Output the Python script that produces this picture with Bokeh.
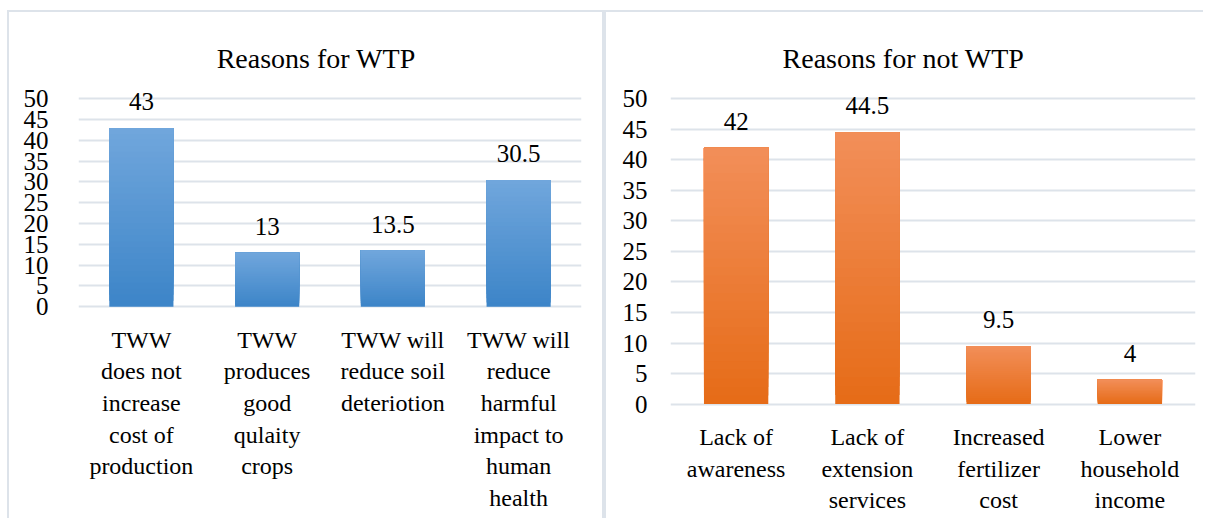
import numpy as np
from bokeh.plotting import figure
from bokeh.models import FactorRange, Range1d, LabelSet, Label, ColumnDataSource, FixedTicker
from bokeh.layouts import row
from bokeh.core.properties import value
from bokeh.embed import file_html
from bokeh.resources import INLINE

# ---- data ----
left_title = "Reasons for WTP"
left_categories = [
    "TWW\ndoes not\nincrease\ncost of\nproduction",
    "TWW\nproduces\ngood\nqulaity\ncrops",
    "TWW will\nreduce soil\ndeteriotion",
    "TWW will\nreduce\nharmful\nimpact to\nhuman\nhealth",
]
left_values = [43, 13, 13.5, 30.5]
left_value_labels = ["43", "13", "13.5", "30.5"]

right_title = "Reasons for not WTP"
right_categories = [
    "Lack of\nawareness",
    "Lack of\nextension\nservices",
    "Increased\nfertilizer\ncost",
    "Lower\nhousehold\nincome",
]
right_values = [42, 44.5, 9.5, 4]
right_value_labels = ["42", "44.5", "9.5", "4"]

y_ticks = [0, 5, 10, 15, 20, 25, 30, 35, 40, 45, 50]

FONT = "Liberation Serif"
GRID = "#dde3ea"

# ---- layout (pixels, page coordinates) ----
W_L, W_R, H = 599, 597, 508
PAGE_TOP = 12          # top of drawing area on the page (after margin + border)
CONTENT_H = H - 2      # drawing height (figure height minus top border)
Y50 = 98               # page y of the 50 gridline
TITLE_BASE = 58        # page y of the title baseline
CAT_BASE = 41          # px from zero line to first category-label baseline
CAT_LH = 31.5          # category label line pitch


def mix(c1, c2, t):
    r = [int(round(a + (b - a) * t)) for a, b in zip(c1, c2)]
    return "#%02x%02x%02x" % tuple(r)


def make_panel(title, cats, vals, labels, width, bl, br, zero_px,
               c_bottom, c_top, bar_w, title_x, tick_standoff):
    u = zero_px / 50.0                       # px per unit
    y_top = 50 + (Y50 - PAGE_TOP) / u
    y_bot = 50 - (PAGE_TOP + CONTENT_H - Y50) / u
    p = figure(x_range=FactorRange(*cats), y_range=Range1d(y_bot, y_top),
               width=width, height=H, output_backend="svg",
               toolbar_location=None, min_border_left=bl, min_border_right=br,
               min_border_top=0, min_border_bottom=0)
    p.outline_line_color = None
    p.background_fill_color = None
    p.border_fill_color = None
    p.xgrid.grid_line_color = None
    p.ygrid.grid_line_color = GRID
    p.ygrid.grid_line_width = 2
    p.xaxis.visible = False
    ax = p.yaxis[0]
    ax.ticker = FixedTicker(ticks=y_ticks)
    ax.axis_line_color = None
    ax.major_tick_line_color = None
    ax.minor_tick_line_color = None
    ax.major_label_text_color = "#000000"
    ax.major_label_text_font = FONT
    ax.major_label_text_font_size = "25px"
    ax.major_label_standoff = tick_standoff

    # gradient bars: overlapping slices, each from a fraction of the value up to the value
    n = 30
    xs, bots, tops, cols = [], [], [], []
    for c, v in zip(cats, vals):
        for i in range(n):
            xs.append(c)
            bots.append(v * i / n)
            tops.append(v)
            cols.append(mix(c_bottom, c_top, i / (n - 1)))
    p.vbar(x=xs, bottom=bots, top=tops, width=bar_w, fill_color=cols, line_color=None)

    # value labels
    src = ColumnDataSource(dict(x=cats, y=vals, t=labels))
    p.add_layout(LabelSet(x="x", y="y", text="t", source=src, y_offset=18,
                          text_align="center", text_baseline="alphabetic",
                          text_font=value(FONT), text_font_size=value("25px"),
                          text_color="#000000"))

    # category labels, one line at a time (centred)
    lx, ly, lt = [], [], []
    for c in cats:
        for k, line in enumerate(c.split("\n")):
            lx.append(c)
            ly.append(-(CAT_BASE + k * CAT_LH) / u)
            lt.append(line)
    src_c = ColumnDataSource(dict(x=lx, y=ly, t=lt))
    p.add_layout(LabelSet(x="x", y="y", text="t", source=src_c,
                          text_align="center", text_baseline="alphabetic",
                          text_font=value(FONT), text_font_size=value("24px"),
                          text_color="#000000"))

    # title
    p.add_layout(Label(x=title_x, y=50 + (Y50 - TITLE_BASE) / u, text=title,
                       text_align="center", text_baseline="alphabetic",
                       text_font=FONT, text_font_size="28px", text_color="#000000"))
    return p


p1 = make_panel(left_title, left_categories, left_values, left_value_labels,
                W_L, 69, 27, 207, (61, 133, 200), (112, 166, 220), 0.51, 1.89, 24)
p2 = make_panel(right_title, right_categories, right_values, right_value_labels,
                W_R, 64, 8, 304, (230, 108, 24), (242, 142, 88), 0.49, 1.775, 17)

p1.styles = {"border-left": "2px solid " + GRID, "border-top": "2px solid " + GRID,
             "border-right": "4px solid " + GRID}
p2.styles = {"border-top": "2px solid " + GRID}

layout = row(p1, p2, spacing=0)
layout.styles = {"margin-top": "10px", "margin-left": "7px"}
open("out.html", "w").write(file_html(layout, INLINE))
